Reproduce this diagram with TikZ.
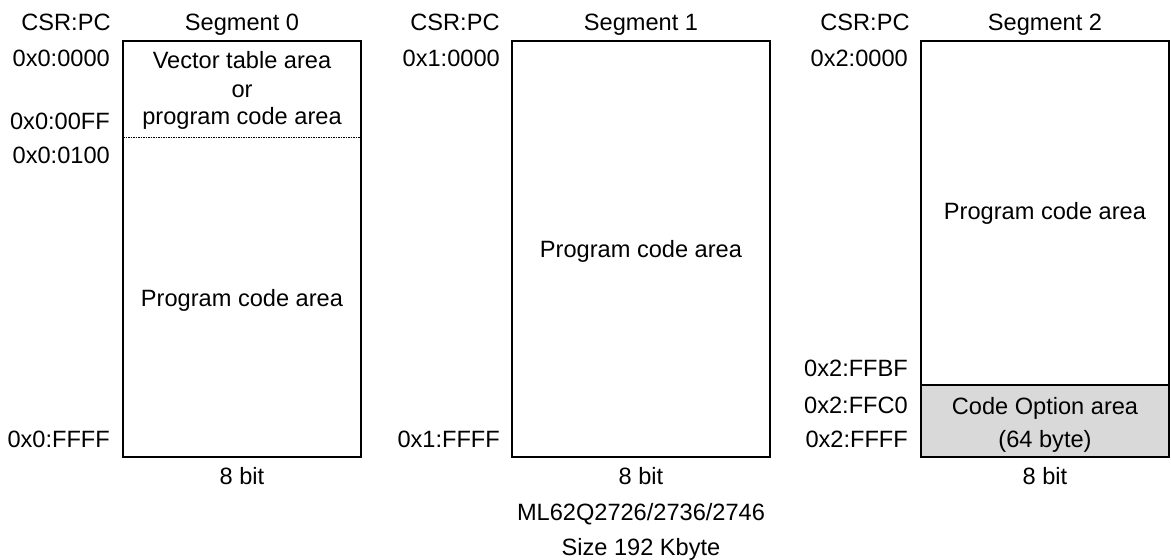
\documentclass[tikz,border=0pt]{standalone}
\usepackage{fontspec}
\setmainfont{Liberation Sans}
\begin{document}
\begin{tikzpicture}[x=1pt,y=-1pt,
  every node/.style={font=\fontsize{23.6}{28}\selectfont, inner sep=0pt},
  membox/.style={draw=black, line width=2pt},
  addr/.style={anchor=base east},
  hdr/.style={anchor=base}]
\useasboundingbox (0,0) rectangle (1171,560);

% Segment 0
\node[hdr] (csr0) at (66,30) {CSR:PC};
\node[hdr] (seg0) at (242,30) {Segment 0};
\draw[membox] (123,41) rectangle (361,457);
\draw[line width=0.8pt, dash pattern=on 1.5pt off 1pt] (123,137) -- (361,137);
\node[hdr] (vt1) at (242,68) {Vector table area};
\node[hdr] (vt2) at (242,97) {or};
\node[hdr] (vt3) at (242,124) {program code area};
\node[hdr] (pc0) at (242,306.5) {Program code area};
\node[addr] (a00) at (110,66) {0x0:0000};
\node[addr] (a01) at (110,129) {0x0:00FF};
\node[addr] (a02) at (110,163) {0x0:0100};
\node[addr] (a03) at (110,447) {0x0:FFFF};
\node[hdr] (b0) at (242,484) {8 bit};

% Segment 1
\node[hdr] (csr1) at (455,30) {CSR:PC};
\node[hdr] (seg1) at (641,30) {Segment 1};
\draw[membox] (512,41) rectangle (770,457);
\node[hdr] (pc1) at (641,257) {Program code area};
\node[addr] (a10) at (500,66) {0x1:0000};
\node[addr] (a11) at (500,447) {0x1:FFFF};
\node[hdr] (b1) at (641,484) {8 bit};

% Segment 2
\node[hdr] (csr2) at (865,30) {CSR:PC};
\node[hdr] (seg2) at (1045,30) {Segment 2};
\fill[black!15] (921,385) rectangle (1169,457);
\draw[membox] (921,41) rectangle (1169,457);
\draw[membox] (921,385) -- (1169,385);
\node[hdr] (pc2) at (1045,219) {Program code area};
\node[hdr] (co1) at (1045,414) {Code Option area};
\node[hdr] (co2) at (1045,447) {(64 byte)};
\node[addr] (a20) at (908,66) {0x2:0000};
\node[addr] (a21) at (908,376) {0x2:FFBF};
\node[addr] (a22) at (908,413) {0x2:FFC0};
\node[addr] (a23) at (908,447) {0x2:FFFF};
\node[hdr] (b2) at (1045,484) {8 bit};

% Device caption
\node[hdr] (dev) at (641,520) {ML62Q2726/2736/2746};
\node[hdr] (size) at (641,555) {Size 192 Kbyte};
\end{tikzpicture}
\end{document}
